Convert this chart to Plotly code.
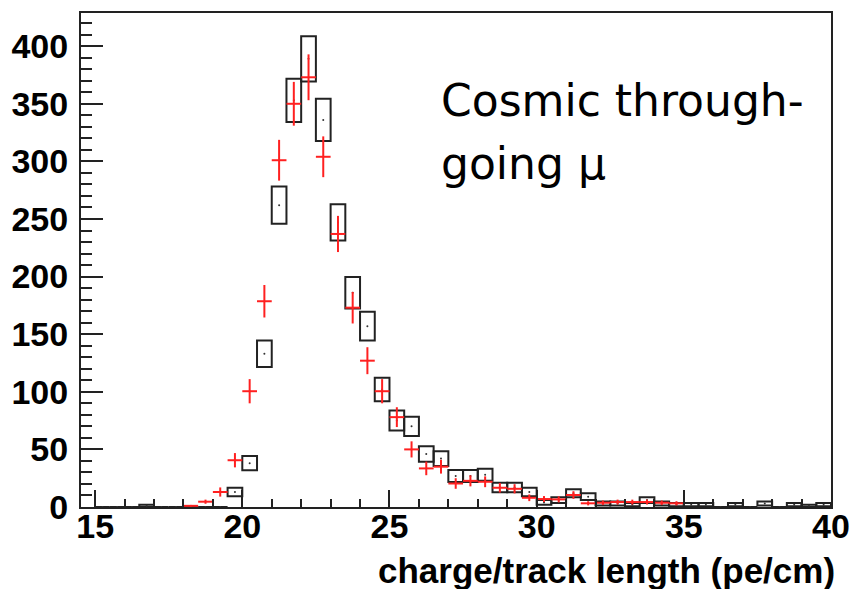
import numpy as np
import plotly.graph_objects as go

# Histogram binning: 0.5 pe/cm bins from 15 to 40
bin_centers = [15.25 + 0.5 * i for i in range(50)]

# Cosmic data counts per bin
data_counts = [0, 0, 0, 1, 0, 0, 0, 0, 0, 13,
               38, 133, 262, 353, 389, 336, 247, 186, 157, 102,
               75, 70, 46, 42, 27, 27, 28, 17, 17, 13,
               4, 6, 12, 9, 3, 3, 2, 6, 3, 2,
               2, 2, 0, 2, 0, 3, 0, 2, 1, 2]

# Monte Carlo prediction (non-empty bins only) and its uncertainty
mc_centers = [18.25, 18.75, 19.25, 19.75, 20.25, 20.75, 21.25, 21.75, 22.25, 22.75,
              23.25, 23.75, 24.25, 24.75, 25.25, 25.75, 26.25, 26.75, 27.25, 27.75,
              28.25, 28.75, 29.25, 29.75, 30.25, 30.75, 31.25, 31.75, 32.25, 32.75,
              33.25, 33.75, 34.25, 34.75]
mc_counts = [1, 4.6, 13, 40.6, 100.5, 178.6, 301, 350, 373, 304,
             237, 173, 127, 100.5, 78, 50, 33.5, 35, 20.4, 22.7,
             21.9, 16.7, 15.8, 8, 6.9, 6.6, 10.4, 3.2, 3.7, 4.3,
             4.3, 4.3, 3.7, 3.2]
mc_errors = [0.8, 1.8, 4, 6.2, 10.5, 14.1, 17.7, 19, 19.9, 17.7,
             15.7, 13.7, 11.7, 10.5, 8.6, 7, 5.9, 6, 4.6, 4.8,
             4.7, 4.2, 4, 2.9, 2.6, 2.6, 3.3, 1.8, 1.9, 2.1,
             2.1, 2.1, 1.9, 1.8]

x_title = "charge/track length (pe/cm)"
label_lines = ["Cosmic through-", "going \u03bc"]

W, H = 861, 589
L, R, T, B = 75, 22, 11, 82

counts = np.array(data_counts, dtype=float)
err = np.sqrt(counts)

fig = go.Figure()

# Data: open error boxes (bin width x +/- sqrt(N))
fig.add_trace(go.Bar(
    x=bin_centers, y=2 * err, base=counts - err, width=0.5,
    marker=dict(color="rgba(0,0,0,0)", line=dict(color="#222222", width=2)),
    hoverinfo="skip", showlegend=False,
))
# Data: central value dots
fig.add_trace(go.Scatter(
    x=bin_centers, y=counts, mode="markers",
    marker=dict(color="#333333", size=2),
    hoverinfo="skip", showlegend=False,
))
# MC: red crosses
fig.add_trace(go.Scatter(
    x=mc_centers, y=mc_counts, mode="markers",
    marker=dict(color="rgba(255,0,0,0)", size=1),
    error_x=dict(type="constant", value=0.25, width=0, thickness=2, color="#ff2020"),
    error_y=dict(type="data", array=mc_errors, width=0, thickness=2, color="#ff2020"),
    hoverinfo="skip", showlegend=False,
))

tick_font = dict(family="Liberation Sans, Arial, sans-serif", size=34, color="black", weight="bold")
title_font = dict(family="Liberation Sans, Arial, sans-serif", size=35, color="black", weight="bold")
label_font = dict(family="DejaVu Sans", size=44, color="black")

fig.update_layout(
    width=W, height=H,
    margin=dict(l=L, r=R, t=T, b=B),
    paper_bgcolor="white", plot_bgcolor="white",
    barmode="overlay",
    xaxis=dict(
        range=[14.52, 40], tickmode="linear", tick0=15, dtick=5,
        ticks="inside", ticklen=17, tickwidth=2, tickcolor="#222222",
        minor=dict(dtick=1, ticks="inside", ticklen=8, tickwidth=2, tickcolor="#222222"),
        showgrid=False, zeroline=False,
        showline=True, linecolor="#222222", linewidth=2, mirror=True,
        tickfont=tick_font, ticklabelstandoff=-12,
    ),
    yaxis=dict(
        range=[0, 428.8], tickmode="linear", tick0=0, dtick=50,
        ticks="inside", ticklen=22, tickwidth=2, tickcolor="#222222",
        minor=dict(dtick=10, ticks="inside", ticklen=11, tickwidth=2, tickcolor="#222222"),
        showgrid=False, zeroline=False,
        showline=True, linecolor="#222222", linewidth=2, mirror=True,
        tickfont=tick_font, ticklabelstandoff=4,
    ),
)

def px_x(p):
    return (p - L) / (W - L - R)

def px_y(p):
    return 1 - (p - T) / (H - T - B)

fig.add_annotation(
    text=x_title, xref="paper", yref="paper",
    x=px_x(845), y=px_y(571), xanchor="right", yanchor="middle",
    showarrow=False, font=title_font,
)
fig.add_annotation(
    text=label_lines[0], xref="paper", yref="paper",
    x=px_x(440), y=px_y(126), xanchor="left", yanchor="bottom",
    showarrow=False, font=label_font,
)
fig.add_annotation(
    text=label_lines[1], xref="paper", yref="paper",
    x=px_x(440), y=px_y(190), xanchor="left", yanchor="bottom",
    showarrow=False, font=label_font,
)

fig.write_html("out.html")
